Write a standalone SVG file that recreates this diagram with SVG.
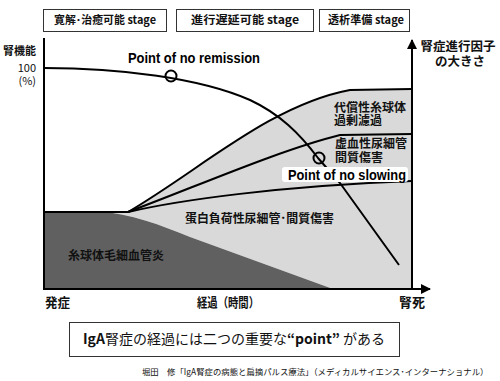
<svg xmlns="http://www.w3.org/2000/svg" width="500" height="381" viewBox="0 0 500 381">
<defs>
<style>
.jp{font-family:"Noto Sans CJK JP","Liberation Sans",sans-serif;fill:#111}
.b{font-weight:bold}
.lat{font-family:"Liberation Sans","Noto Sans CJK JP",sans-serif;font-weight:bold;fill:#000}
.box{fill:#fff;stroke:#333;stroke-width:1}
.ln{fill:none;stroke:#000;stroke-width:2}
</style>
<marker id="ah" viewBox="0 0 10 10" refX="9" refY="5" markerWidth="5" markerHeight="5" orient="auto"><path d="M0,0 L10,5 L0,10 z" fill="#000"/></marker>
</defs>
<rect width="500" height="381" fill="#fff"/>

<g id="stages">
<g id="stage1"><rect class="box" x="43.5" y="9.5" width="123" height="22"/><text class="jp b" x="105" y="24" font-size="11" text-anchor="middle" textLength="102" lengthAdjust="spacingAndGlyphs">寛解･治癒可能 stage</text></g>
<g id="stage2"><rect class="box" x="176.5" y="9.5" width="137" height="22"/><text class="jp b" x="245" y="24" font-size="11" text-anchor="middle" textLength="108" lengthAdjust="spacingAndGlyphs">進行遅延可能 stage</text></g>
<g id="stage3"><rect class="box" x="319.5" y="9.5" width="90" height="22"/><text class="jp b" x="366" y="24" font-size="11" text-anchor="middle" textLength="76" lengthAdjust="spacingAndGlyphs">透析準備 stage</text></g>
</g>

<g id="areas">
<path id="light-area" d="M100,212 L128,212 C200,170 270,105 350,90 L412,89 L412,289 L333,289 L190,237 C160,225 130,213 100,212 Z" fill="#d9d9d9"/>
<path id="dark-area" d="M44,212 L100,212 C130,213 160,225 190,237 L333,289 L44,289 Z" fill="#606060"/>
</g>

<g id="connectors">
<path class="ln" d="M44,212 L128,212"/>
<path class="ln" d="M128,212 C200,170 270,105 350,90 L412,89"/>
<path class="ln" d="M128,212 C200,185 280,150 340,135 L412,134"/>
<path class="ln" d="M128,212 C180,200 280,186 412,181"/>
<path class="ln" d="M44,68 C120,68 200,78 250,100 C280,114 300,134 318,158 L340,183 L399,265"/>
<path class="ln" d="M44,38 L44,289 L430,289" marker-end="url(#ah)"/>
<path class="ln" d="M412,289 L412,40" marker-end="url(#ah)"/>
</g>

<g id="point-remission">
<circle cx="171" cy="76" r="5.5" fill="none" stroke="#000" stroke-width="2"/>
<text class="lat" x="128" y="63" font-size="15" textLength="132" lengthAdjust="spacingAndGlyphs">Point of no remission</text>
</g>

<g id="point-slowing">
<circle cx="319" cy="158" r="5.5" fill="none" stroke="#000" stroke-width="2"/>
<rect x="282" y="167" width="126" height="15" rx="3" fill="#fff"/>
<text class="lat" x="288" y="180" font-size="15" textLength="118" lengthAdjust="spacingAndGlyphs">Point of no slowing</text>
</g>

<g id="labels">
<text class="jp b" font-size="12"><tspan x="334" y="112">代償性糸球体</tspan><tspan x="334" y="125">過剰濾過</tspan></text>
<text class="jp b" font-size="12"><tspan x="335" y="148">虚血性尿細管</tspan><tspan x="335" y="162">間質傷害</tspan></text>
<text class="jp b" x="185" y="223" font-size="12" textLength="149" lengthAdjust="spacingAndGlyphs">蛋白負荷性尿細管･間質傷害</text>
<text class="jp b" x="68" y="260" font-size="12" textLength="96" lengthAdjust="spacingAndGlyphs">糸球体毛細血管炎</text>
<text class="jp b" x="3" y="55" font-size="11" textLength="33" lengthAdjust="spacingAndGlyphs">腎機能</text>
<text class="jp" font-size="11" text-anchor="end"><tspan x="36" y="72">100</tspan><tspan x="36" y="85">(%)</tspan></text>
<text class="jp b" font-size="12.5" text-anchor="middle"><tspan x="458" y="51">腎症進行因子</tspan><tspan x="460" y="66">の大きさ</tspan></text>
<text class="jp b" x="45" y="307" font-size="13" textLength="25" lengthAdjust="spacingAndGlyphs">発症</text>
<text class="jp b" x="197" y="307" font-size="13" textLength="62" lengthAdjust="spacingAndGlyphs">経過（時間）</text>
<text class="jp b" x="399" y="307" font-size="13" textLength="26" lengthAdjust="spacingAndGlyphs">腎死</text>
</g>

<g id="summary">
<rect class="box" x="69.5" y="322.5" width="330" height="34"/>
<text class="jp" x="234" y="344" font-size="14" text-anchor="middle"><tspan font-weight="bold">IgA</tspan>腎症の経過には二つの重要な<tspan font-weight="bold">“point”</tspan> がある</text>
</g>

<text class="jp" x="142" y="375" font-size="8.4">堀田　修「IgA腎症の病態と扁摘パルス療法」（メディカルサイエンス･インターナショナル）</text>
</svg>
